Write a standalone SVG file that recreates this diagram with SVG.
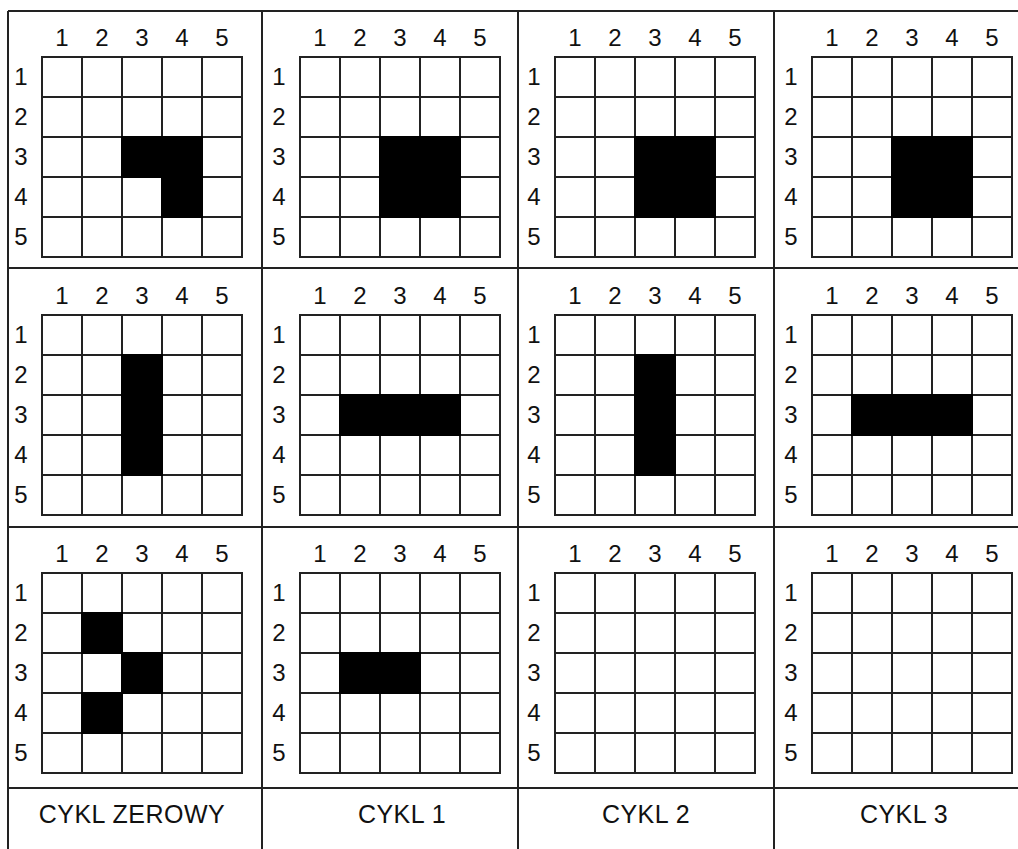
<svg xmlns="http://www.w3.org/2000/svg" xmlns:xlink="http://www.w3.org/1999/xlink" width="1018" height="849" viewBox="0 0 1018 849">
<style>
.bg{fill:#fff}
.gl{fill:none;stroke:#222;stroke-width:2}
.fr{fill:none;stroke:#222;stroke-width:2}
.f{fill:#000}
.d{font-family:"Liberation Sans",Arial,sans-serif;font-size:24px;fill:#111;text-anchor:middle}
.lb{font-family:"Liberation Sans",Arial,sans-serif;font-size:25px;fill:#111;text-anchor:middle;letter-spacing:0.5px}
</style>
<defs>
<g id="grid">
<rect x="0" y="0" width="200" height="200" class="gl"/>
<path class="gl" d="M40 0V200M80 0V200M120 0V200M160 0V200M0 40H200M0 80H200M0 120H200M0 160H200"/>
</g>
</defs>
<rect x="0" y="0" width="1018" height="849" class="bg"/>
<g id="frame" class="fr">
<path d="M8 11H1018M8 268H1018M8 527H1018M8 788H1018M8 11V849M262 11V849M518 11V849M774 11V849"/>
</g>

<g id="panel-r1-c0" transform="translate(42,57)">
<use xlink:href="#grid" href="#grid"/>
<rect class="f" x="79" y="79" width="82" height="42"/><rect class="f" x="119" y="119" width="42" height="42"/>
<text class="d" x="20" y="-11">1</text><text class="d" x="60" y="-11">2</text><text class="d" x="100" y="-11">3</text><text class="d" x="140" y="-11">4</text><text class="d" x="180" y="-11">5</text>
<text class="d" x="-21" y="28">1</text><text class="d" x="-21" y="68">2</text><text class="d" x="-21" y="108">3</text><text class="d" x="-21" y="148">4</text><text class="d" x="-21" y="188">5</text>
</g>
<g id="panel-r1-c1" transform="translate(300,57)">
<use xlink:href="#grid" href="#grid"/>
<rect class="f" x="79" y="79" width="82" height="82"/>
<text class="d" x="20" y="-11">1</text><text class="d" x="60" y="-11">2</text><text class="d" x="100" y="-11">3</text><text class="d" x="140" y="-11">4</text><text class="d" x="180" y="-11">5</text>
<text class="d" x="-21" y="28">1</text><text class="d" x="-21" y="68">2</text><text class="d" x="-21" y="108">3</text><text class="d" x="-21" y="148">4</text><text class="d" x="-21" y="188">5</text>
</g>
<g id="panel-r1-c2" transform="translate(555,57)">
<use xlink:href="#grid" href="#grid"/>
<rect class="f" x="79" y="79" width="82" height="82"/>
<text class="d" x="20" y="-11">1</text><text class="d" x="60" y="-11">2</text><text class="d" x="100" y="-11">3</text><text class="d" x="140" y="-11">4</text><text class="d" x="180" y="-11">5</text>
<text class="d" x="-21" y="28">1</text><text class="d" x="-21" y="68">2</text><text class="d" x="-21" y="108">3</text><text class="d" x="-21" y="148">4</text><text class="d" x="-21" y="188">5</text>
</g>
<g id="panel-r1-c3" transform="translate(812,57)">
<use xlink:href="#grid" href="#grid"/>
<rect class="f" x="79" y="79" width="82" height="82"/>
<text class="d" x="20" y="-11">1</text><text class="d" x="60" y="-11">2</text><text class="d" x="100" y="-11">3</text><text class="d" x="140" y="-11">4</text><text class="d" x="180" y="-11">5</text>
<text class="d" x="-21" y="28">1</text><text class="d" x="-21" y="68">2</text><text class="d" x="-21" y="108">3</text><text class="d" x="-21" y="148">4</text><text class="d" x="-21" y="188">5</text>
</g>

<g id="panel-r2-c0" transform="translate(42,315)">
<use xlink:href="#grid" href="#grid"/>
<rect class="f" x="79" y="39" width="42" height="122"/>
<text class="d" x="20" y="-11">1</text><text class="d" x="60" y="-11">2</text><text class="d" x="100" y="-11">3</text><text class="d" x="140" y="-11">4</text><text class="d" x="180" y="-11">5</text>
<text class="d" x="-21" y="28">1</text><text class="d" x="-21" y="68">2</text><text class="d" x="-21" y="108">3</text><text class="d" x="-21" y="148">4</text><text class="d" x="-21" y="188">5</text>
</g>
<g id="panel-r2-c1" transform="translate(300,315)">
<use xlink:href="#grid" href="#grid"/>
<rect class="f" x="39" y="79" width="122" height="42"/>
<text class="d" x="20" y="-11">1</text><text class="d" x="60" y="-11">2</text><text class="d" x="100" y="-11">3</text><text class="d" x="140" y="-11">4</text><text class="d" x="180" y="-11">5</text>
<text class="d" x="-21" y="28">1</text><text class="d" x="-21" y="68">2</text><text class="d" x="-21" y="108">3</text><text class="d" x="-21" y="148">4</text><text class="d" x="-21" y="188">5</text>
</g>
<g id="panel-r2-c2" transform="translate(555,315)">
<use xlink:href="#grid" href="#grid"/>
<rect class="f" x="79" y="39" width="42" height="122"/>
<text class="d" x="20" y="-11">1</text><text class="d" x="60" y="-11">2</text><text class="d" x="100" y="-11">3</text><text class="d" x="140" y="-11">4</text><text class="d" x="180" y="-11">5</text>
<text class="d" x="-21" y="28">1</text><text class="d" x="-21" y="68">2</text><text class="d" x="-21" y="108">3</text><text class="d" x="-21" y="148">4</text><text class="d" x="-21" y="188">5</text>
</g>
<g id="panel-r2-c3" transform="translate(812,315)">
<use xlink:href="#grid" href="#grid"/>
<rect class="f" x="39" y="79" width="122" height="42"/>
<text class="d" x="20" y="-11">1</text><text class="d" x="60" y="-11">2</text><text class="d" x="100" y="-11">3</text><text class="d" x="140" y="-11">4</text><text class="d" x="180" y="-11">5</text>
<text class="d" x="-21" y="28">1</text><text class="d" x="-21" y="68">2</text><text class="d" x="-21" y="108">3</text><text class="d" x="-21" y="148">4</text><text class="d" x="-21" y="188">5</text>
</g>

<g id="panel-r3-c0" transform="translate(42,573)">
<use xlink:href="#grid" href="#grid"/>
<rect class="f" x="39" y="39" width="42" height="42"/><rect class="f" x="79" y="79" width="42" height="42"/><rect class="f" x="39" y="119" width="42" height="42"/>
<text class="d" x="20" y="-11">1</text><text class="d" x="60" y="-11">2</text><text class="d" x="100" y="-11">3</text><text class="d" x="140" y="-11">4</text><text class="d" x="180" y="-11">5</text>
<text class="d" x="-21" y="28">1</text><text class="d" x="-21" y="68">2</text><text class="d" x="-21" y="108">3</text><text class="d" x="-21" y="148">4</text><text class="d" x="-21" y="188">5</text>
</g>
<g id="panel-r3-c1" transform="translate(300,573)">
<use xlink:href="#grid" href="#grid"/>
<rect class="f" x="39" y="79" width="82" height="42"/>
<text class="d" x="20" y="-11">1</text><text class="d" x="60" y="-11">2</text><text class="d" x="100" y="-11">3</text><text class="d" x="140" y="-11">4</text><text class="d" x="180" y="-11">5</text>
<text class="d" x="-21" y="28">1</text><text class="d" x="-21" y="68">2</text><text class="d" x="-21" y="108">3</text><text class="d" x="-21" y="148">4</text><text class="d" x="-21" y="188">5</text>
</g>
<g id="panel-r3-c2" transform="translate(555,573)">
<use xlink:href="#grid" href="#grid"/>
<text class="d" x="20" y="-11">1</text><text class="d" x="60" y="-11">2</text><text class="d" x="100" y="-11">3</text><text class="d" x="140" y="-11">4</text><text class="d" x="180" y="-11">5</text>
<text class="d" x="-21" y="28">1</text><text class="d" x="-21" y="68">2</text><text class="d" x="-21" y="108">3</text><text class="d" x="-21" y="148">4</text><text class="d" x="-21" y="188">5</text>
</g>
<g id="panel-r3-c3" transform="translate(812,573)">
<use xlink:href="#grid" href="#grid"/>
<text class="d" x="20" y="-11">1</text><text class="d" x="60" y="-11">2</text><text class="d" x="100" y="-11">3</text><text class="d" x="140" y="-11">4</text><text class="d" x="180" y="-11">5</text>
<text class="d" x="-21" y="28">1</text><text class="d" x="-21" y="68">2</text><text class="d" x="-21" y="108">3</text><text class="d" x="-21" y="148">4</text><text class="d" x="-21" y="188">5</text>
</g>

<g id="cycle-labels">
<text class="lb" x="132" y="823">CYKL ZEROWY</text>
<text class="lb" x="402" y="823">CYKL 1</text>
<text class="lb" x="646" y="823">CYKL 2</text>
<text class="lb" x="904" y="823">CYKL 3</text>
</g>
</svg>
